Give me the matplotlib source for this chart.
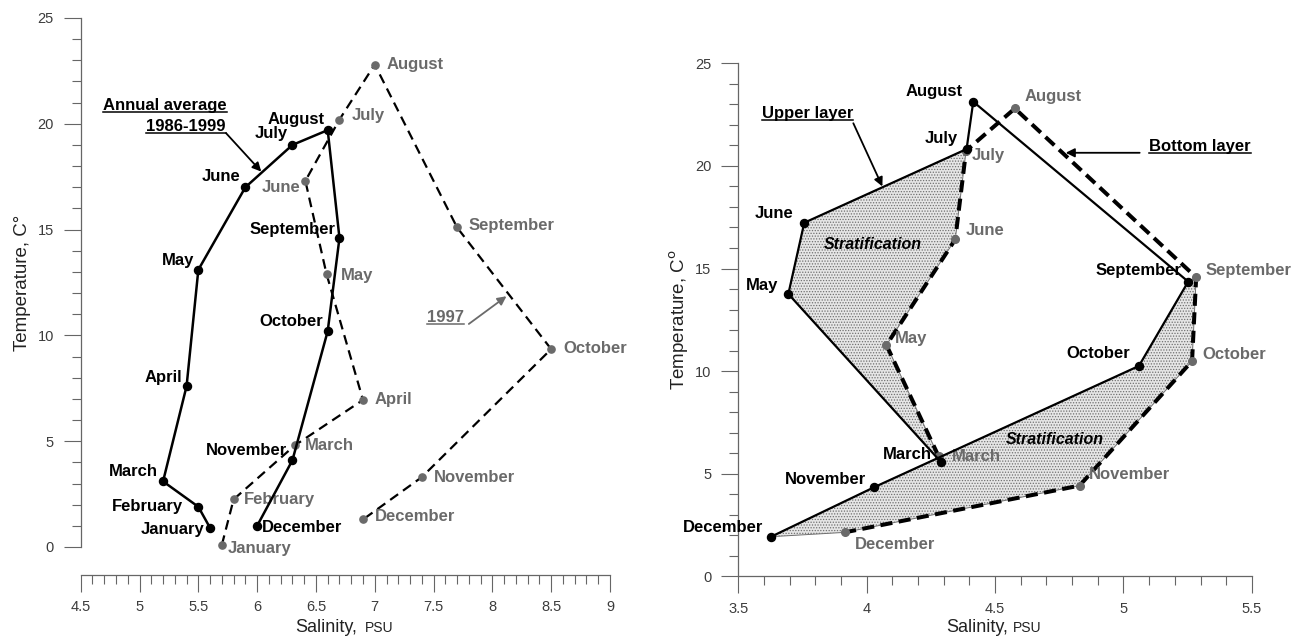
import matplotlib
matplotlib.use("Agg")
import matplotlib.pyplot as plt
from matplotlib.lines import Line2D
from matplotlib.ticker import MultipleLocator

# ---------------- data ----------------
months = ["January", "February", "March", "April", "May", "June", "July",
          "August", "September", "October", "November", "December"]
avg_sal = [5.6, 5.5, 5.2, 5.4, 5.5, 5.9, 6.3, 6.6, 6.7, 6.6, 6.3, 6.0]
avg_temp = [0.9, 1.9, 3.1, 7.6, 13.1, 17.0, 19.0, 19.7, 14.6, 10.2, 4.1, 1.0]
y97_sal = [5.7, 5.8, 6.32, 6.9, 6.59, 6.41, 6.70, 7.0, 7.7, 8.5, 7.4, 6.9]
y97_temp = [0.1, 2.25, 4.8, 6.95, 12.9, 17.3, 20.2, 22.8, 15.1, 9.35, 3.3, 1.3]

layer_months = ["March", "May", "June", "July", "August", "September",
                "October", "November", "December"]
upper_sal = [4.29, 3.695, 3.757, 4.389, 4.415, 5.252, 5.06, 4.029, 3.628]
upper_temp = [5.56, 13.76, 17.23, 20.82, 23.13, 14.36, 10.25, 4.34, 1.93]
bottom_sal = [4.28, 4.077, 4.345, 4.387, 4.577, 5.283, 5.267, 4.829, 3.914]
bottom_temp = [5.85, 11.27, 16.42, 20.74, 22.8, 14.57, 10.49, 4.42, 2.14]

left_xticks = [4.5, 5, 5.5, 6, 6.5, 7, 7.5, 8, 8.5, 9]
left_xticklabels = ["4.5", "5", "5.5", "6", "6.5", "7", "7.5", "8", "8.5", "9"]
right_xticks = [3.5, 4, 4.5, 5, 5.5]
right_xticklabels = ["3.5", "4", "4.5", "5", "5.5"]
yticks = [0, 5, 10, 15, 20, 25]
yticklabels = ["0", "5", "10", "15", "20", "25"]

# ---------------- label offsets (pixels) ----------------
avg_off = [(-6, -2, "right"), (-15, 0, "right"), (-5, 10, "right"), (-4, 9, "right"),
           (-4, 9, "right"), (-4.5, 11, "right"), (-5, 11, "right"), (-3, 11, "right"),
           (-4, 9, "right"), (-4.5, 10, "right"), (-5, 10, "right"), (5, -2, "left")]
y97_off = [(6, -4, "left"), (10, 0, "left"), (10, 0, "left"), (11.6, 0, "left"),
           (14, -1, "left"), (-5, -7, "right"), (12, 4, "left"), (12, 0, "left"),
           (11, 2, "left"), (12, 1, "left"), (12, 0, "left"), (12, 3, "left")]
upper_off = [(-9.5, 8), (-10, 8), (-11, 9), (-9, 11), (-11, 10), (-7, 11),
             (-9, 12), (-8, 8), (-8, 9)]
bottom_off = [(13, 0), (8, 7), (10, 9), (6, -5), (10, 12), (9, 7), (10, 7),
              (9, 11), (10, -12)]

plt.rcParams["font.family"] = ["Liberation Sans", "DejaVu Sans"]
plt.rcParams["hatch.linewidth"] = 0.6

GRAY = "#6a6a6a"
AXC = "#666666"
TICKC = "#3c3c3c"
PX = 0.72  # points per pixel at dpi=100
W, H = 1300, 637

fig = plt.figure(figsize=(13, 6.37), dpi=100)
axL = fig.add_axes([0.0621, 0.1413, 0.4071, 0.8305])
axR = fig.add_axes([0.5679, 0.0953, 0.3951, 0.8053])


def style_axes(ax):
    for s in ["top", "right"]:
        ax.spines[s].set_visible(False)
    for s in ["left", "bottom"]:
        ax.spines[s].set_color(AXC)
        ax.spines[s].set_linewidth(0.9)
    ax.yaxis.set_minor_locator(MultipleLocator(1))
    ax.xaxis.set_minor_locator(MultipleLocator(0.1))
    ax.tick_params(which="major", length=12.3, width=0.8, color=AXC,
                   labelsize=10.5, labelcolor=TICKC)
    ax.tick_params(which="minor", length=6.3, width=0.8, color=AXC)
    ax.tick_params(axis="y", pad=7)
    ax.tick_params(axis="x", pad=6)
    ax.set_yticks(yticks)
    ax.set_yticklabels(yticklabels)
    ax.set_ylim(0, 25)


style_axes(axL)
style_axes(axR)

axL.set_xlim(4.5, 9)
axL.set_xticks(left_xticks)
axL.set_xticklabels(left_xticklabels)
axL.spines["bottom"].set_position(("outward", 20))
axR.set_xlim(3.5, 5.5)
axR.set_xticks(right_xticks)
axR.set_xticklabels(right_xticklabels)

# axis titles: "Salinity," with small "PSU"
for sal_right, psu_left in ((357, 365), (1008, 1013)):
    fig.text(sal_right / W, 1 - 632 / H, "Salinity,", ha="right", va="baseline",
             fontsize=13, color="#222")
    fig.text(psu_left / W, 1 - 632 / H, "PSU", ha="left", va="baseline",
             fontsize=10, color="#222")
axL.set_ylabel("Temperature, C\u00b0", fontsize=13.5, labelpad=5, color="#222")
axR.set_ylabel("Temperature, C$^{\\mathrm{o}}$", fontsize=13.5, labelpad=3, color="#222")

LBL = dict(fontsize=12, fontweight="bold")


def label(ax, x, y, text, dx, dy, ha, color):
    ax.annotate(text, (x, y), xytext=(dx * PX, dy * PX), textcoords="offset points",
                ha=ha, va="center", color=color, annotation_clip=False, **LBL)


# ---------------- left panel ----------------
axL.plot(y97_sal, y97_temp, color="black", lw=1.6, linestyle=(0, (4.4, 2.7)),
         zorder=2, clip_on=False)
axL.plot(y97_sal, y97_temp, linestyle="none", marker="o", ms=5.2, color=GRAY,
         zorder=3, clip_on=False)
axL.plot(avg_sal, avg_temp, color="black", lw=1.8, marker="o", ms=5.8,
         zorder=4, clip_on=False)
for m, x, y, (dx, dy, ha) in zip(months, avg_sal, avg_temp, avg_off):
    label(axL, x, y, m, dx, dy, ha, "black")
for m, x, y, (dx, dy, ha) in zip(months, y97_sal, y97_temp, y97_off):
    label(axL, x, y, m, dx, dy, ha, GRAY)

underlined = []
t1 = axL.text(5.742, 20.65, "Annual average", ha="right", va="baseline", **LBL)
t2 = axL.text(5.732, 19.68, "1986-1999", ha="right", va="baseline", **LBL)
t3 = axL.text(7.758, 10.63, "1997", ha="right", va="baseline", color=GRAY, **LBL)
underlined += [(axL, t1, 20.65, "black"), (axL, t2, 19.68, "black"), (axL, t3, 10.63, GRAY)]
axL.annotate("", xy=(6.035, 17.74), xytext=(5.735, 19.56),
             arrowprops=dict(arrowstyle="-|>", color="black", lw=1.3,
                             mutation_scale=13, shrinkA=0, shrinkB=0))
axL.annotate("", xy=(8.12, 11.85), xytext=(7.80, 10.54),
             arrowprops=dict(arrowstyle="-|>", color=GRAY, lw=1.3,
                             mutation_scale=13, shrinkA=0, shrinkB=0))

# ---------------- right panel ----------------
spring_u = [0, 1, 2, 3]
spring_x = [upper_sal[i] for i in spring_u] + [bottom_sal[i] for i in reversed(spring_u)]
spring_y = [upper_temp[i] for i in spring_u] + [bottom_temp[i] for i in reversed(spring_u)]
aut_u = [8, 7, 6, 5]
aut_b = [5, 6, 7, 8]
aut_x = [upper_sal[i] for i in aut_u] + [bottom_sal[i] for i in aut_b]
aut_y = [upper_temp[i] for i in aut_u] + [bottom_temp[i] for i in aut_b]
for px_, py_ in ((spring_x, spring_y), (aut_x, aut_y)):
    axR.fill(px_, py_, facecolor="#e6e6e6", edgecolor="#707070", hatch="......",
             lw=0.7, zorder=1)

axR.plot(bottom_sal, bottom_temp, color="black", lw=2.9, linestyle=(0, (3.0, 1.6)),
         zorder=2)
axR.plot(bottom_sal, bottom_temp, linestyle="none", marker="o", ms=5.5, color=GRAY,
         zorder=3)
axR.plot(upper_sal, upper_temp, color="black", lw=1.6, marker="o", ms=5.8, zorder=4)

for m, x, y, (dx, dy) in zip(layer_months, upper_sal, upper_temp, upper_off):
    label(axR, x, y, m, dx, dy, "right", "black")
for m, x, y, (dx, dy) in zip(layer_months, bottom_sal, bottom_temp, bottom_off):
    label(axR, x, y, m, dx, dy, "left", GRAY)

t4 = axR.text(3.592, 22.33, "Upper layer", ha="left", va="baseline", **LBL)
t5 = axR.text(5.100, 20.72, "Bottom layer", ha="left", va="baseline", **LBL)
underlined += [(axR, t4, 22.33, "black"), (axR, t5, 20.72, "black")]
axR.annotate("", xy=(4.061, 19.0), xytext=(3.948, 22.08),
             arrowprops=dict(arrowstyle="-|>", color="black", lw=1.3,
                             mutation_scale=13, shrinkA=0, shrinkB=0))
axR.annotate("", xy=(4.775, 20.64), xytext=(5.063, 20.64),
             arrowprops=dict(arrowstyle="-|>", color="black", lw=1.3,
                             mutation_scale=13, shrinkA=0, shrinkB=0))
axR.text(4.024, 16.18, "Stratification", ha="center", va="center", fontsize=11.5,
         fontweight="bold", fontstyle="italic", zorder=5)
axR.text(4.732, 6.68, "Stratification", ha="center", va="center", fontsize=11.5,
         fontweight="bold", fontstyle="italic", zorder=5)

# underline annotation texts
fig.canvas.draw()
renderer = fig.canvas.get_renderer()
inv = fig.transFigure.inverted()
for ax, t, yb, c in underlined:
    bb = t.get_window_extent(renderer)
    base = ax.transData.transform((0, yb))[1] - 2.0
    (fx0, fy), (fx1, _) = inv.transform([(bb.x0, base), (bb.x1, base)])
    fig.add_artist(Line2D([fx0, fx1], [fy, fy], transform=fig.transFigure,
                          color=c, lw=1.1))

fig.savefig("out.png", dpi=100)
